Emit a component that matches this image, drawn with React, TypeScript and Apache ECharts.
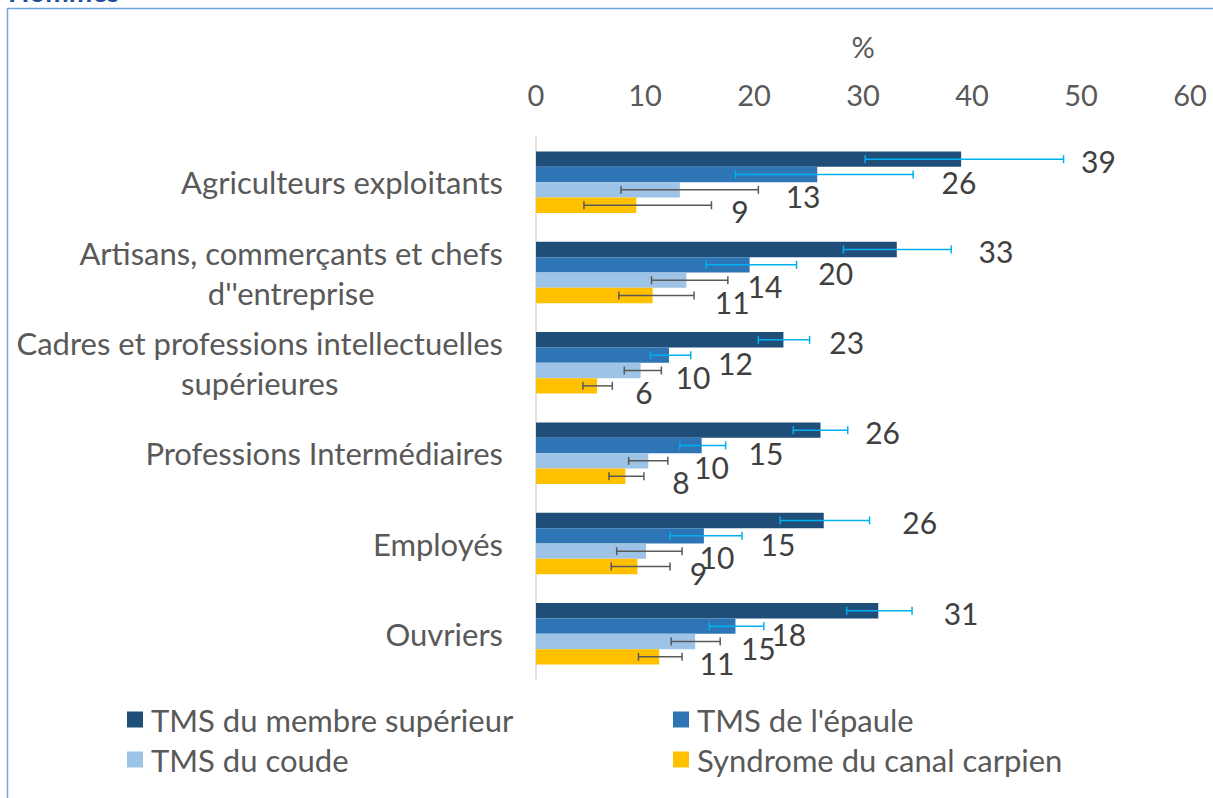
import React, { useEffect, useRef } from 'react';
import * as echarts from 'echarts';

const categories = [
  'Agriculteurs exploitants',
  "Artisans, commerçants et chefs\nd''entreprise",
  'Cadres et professions intellectuelles\nsupérieures',
  'Professions Intermédiaires',
  'Employés',
  'Ouvriers',
];
const seriesNames = ['TMS du membre supérieur', "TMS de l'épaule", 'TMS du coude', 'Syndrome du canal carpien'];

// values (%)
const membre = [39.0, 33.1, 22.7, 26.1, 26.4, 31.4];
const epaule = [25.8, 19.6, 12.2, 15.2, 15.4, 18.3];
const coude = [13.2, 13.8, 9.6, 10.3, 10.1, 14.6];
const canal = [9.2, 10.7, 5.6, 8.2, 9.3, 11.3];

// confidence intervals
const membreLow = [30.2, 28.2, 20.4, 23.6, 22.4, 28.5];
const membreHigh = [48.4, 38.1, 25.1, 28.6, 30.6, 34.5];
const epauleLow = [18.3, 15.6, 10.5, 13.2, 12.3, 15.9];
const epauleHigh = [34.6, 23.9, 14.2, 17.4, 18.9, 20.9];
const coudeLow = [7.8, 10.6, 8.1, 8.5, 7.4, 12.4];
const coudeHigh = [20.4, 17.6, 11.5, 12.1, 13.4, 16.9];
const canalLow = [4.4, 7.6, 4.3, 6.7, 6.9, 9.4];
const canalHigh = [16.1, 14.5, 7.0, 9.9, 12.3, 13.4];

// where the value labels sit (in % units along the axis)
const membreLabelAt = [51.6, 42.2, 28.5, 31.8, 35.2, 39.0];
const epauleLabelAt = [38.8, 27.5, 18.3, 21.1, 22.2, 23.2];
const coudeLabelAt = [24.5, 21.0, 14.4, 16.1, 16.6, 20.4];
const canalLabelAt = [18.7, 18.0, 9.9, 13.3, 14.9, 16.6];

const axisMin = 0;
const axisMax = 60;
const axisStep = 10;

const colors = ['#1f4e79', '#2e75b6', '#9dc3e6', '#ffc000'];
const errColors = ['#00b0f0', '#00b0f0', '#595959', '#595959'];
const labelDy = [2, 8, 6, 6];
const CAT_GAP = 0.32;
const FONT = 'Lato';

export default function App() {
  const ref = useRef<HTMLDivElement>(null);
  useEffect(() => {
    if (!ref.current) return;
    const chart = echarts.init(ref.current, null, { renderer: 'svg' });
    const values = [membre, epaule, coude, canal];
    const lows = [membreLow, epauleLow, coudeLow, canalLow];
    const highs = [membreHigh, epauleHigh, coudeHigh, canalHigh];
    const labelAt = [membreLabelAt, epauleLabelAt, coudeLabelAt, canalLabelAt];

    const barSeries = values.map((v, k) => ({
      type: 'bar',
      name: seriesNames[k],
      data: v,
      barGap: '0%',
      barCategoryGap: CAT_GAP * 100 + '%',
      itemStyle: { color: colors[k] },
      z: 2,
    }));

    const errSeries = values.map((v, k) => ({
      type: 'custom',
      name: 'err' + k,
      z: 5,
      encode: { x: [1, 2, 3], y: 0 },
      data: categories.map((c, i) => [i, lows[k][i], highs[k][i], labelAt[k][i], v[i]]),
      renderItem: (params: any, api: any) => {
        const ci = api.value(0);
        const lo = api.coord([api.value(1), ci]);
        const hi = api.coord([api.value(2), ci]);
        const lab = api.coord([api.value(3), ci]);
        const band = api.size([0, 1])[1];
        const groupW = band * (1 - CAT_GAP);
        const barW = groupW / 4;
        const y = lo[1] - groupW / 2 + barW * (k + 0.5);
        const cap = 4;
        const st = { stroke: errColors[k], lineWidth: 1.5 };
        return {
          type: 'group',
          children: [
            { type: 'line', shape: { x1: lo[0], y1: y, x2: hi[0], y2: y }, style: st },
            { type: 'line', shape: { x1: lo[0], y1: y - cap, x2: lo[0], y2: y + cap }, style: st },
            { type: 'line', shape: { x1: hi[0], y1: y - cap, x2: hi[0], y2: y + cap }, style: st },
            {
              type: 'text',
              x: lab[0],
              y: y + labelDy[k],
              style: {
                text: String(Math.round(api.value(4))),
                fill: '#404040',
                font: `30px ${FONT}`,
                align: 'center',
                verticalAlign: 'middle',
              },
            },
          ],
        };
      },
    }));

    const legendText = { color: '#595959', fontSize: 31, fontFamily: FONT, lineHeight: 30, padding: [0, 0, 0, 3] };

    chart.setOption({
      animation: false,
      backgroundColor: '#ffffff',
      textStyle: { fontFamily: FONT },
      graphic: [
        {
          type: 'rect',
          shape: { x: 7.5, y: 8.5, width: 1400, height: 1000 },
          style: { fill: 'none', stroke: '#6fa6dc', lineWidth: 1.5 },
          silent: true,
        },
        {
          type: 'text',
          x: 8,
          y: -23,
          style: { text: 'Hommes', font: `bold 28px ${FONT}`, fill: '#1f4e9c', verticalAlign: 'top' },
        },
      ],
      grid: { left: 536, right: 23, top: 137, bottom: 119, containLabel: false },
      xAxis: {
        type: 'value',
        position: 'top',
        min: axisMin,
        max: axisMax,
        interval: axisStep,
        name: '%',
        nameLocation: 'middle',
        nameGap: 76,
        nameTextStyle: { color: '#595959', fontSize: 29, fontFamily: FONT },
        axisLine: { show: false },
        axisTick: { show: false },
        splitLine: { show: false },
        axisLabel: { color: '#595959', fontSize: 29, fontFamily: FONT, margin: 28 },
      },
      yAxis: {
        type: 'category',
        inverse: true,
        data: categories,
        axisLine: { show: true, lineStyle: { color: '#d9d9d9', width: 1.5 } },
        axisTick: { show: false },
        axisLabel: {
          margin: 33,
          color: '#595959',
          fontSize: 31,
          fontFamily: FONT,
          lineHeight: 40,
          formatter: (v: string) => v.split('\n').map((l) => `{c|${l}}`).join('\n'),
          rich: { c: { align: 'center', color: '#595959', fontSize: 31, fontFamily: FONT, lineHeight: 40 } },
        },
      },
      legend: [
        {
          data: [seriesNames[0], seriesNames[2]],
          orient: 'vertical',
          left: 122,
          top: 699,
          itemWidth: 16,
          itemHeight: 16,
          icon: 'rect',
          itemGap: 9,
          textStyle: legendText,
        },
        {
          data: [seriesNames[1], seriesNames[3]],
          orient: 'vertical',
          left: 668,
          top: 699,
          itemWidth: 16,
          itemHeight: 16,
          icon: 'rect',
          itemGap: 9,
          textStyle: legendText,
        },
      ],
      series: [...barSeries, ...errSeries],
    });
    return () => chart.dispose();
  }, []);
  return <div ref={ref} style={{ position: 'fixed', left: 0, top: 0, width: 1213, height: 798 }} />;
}
